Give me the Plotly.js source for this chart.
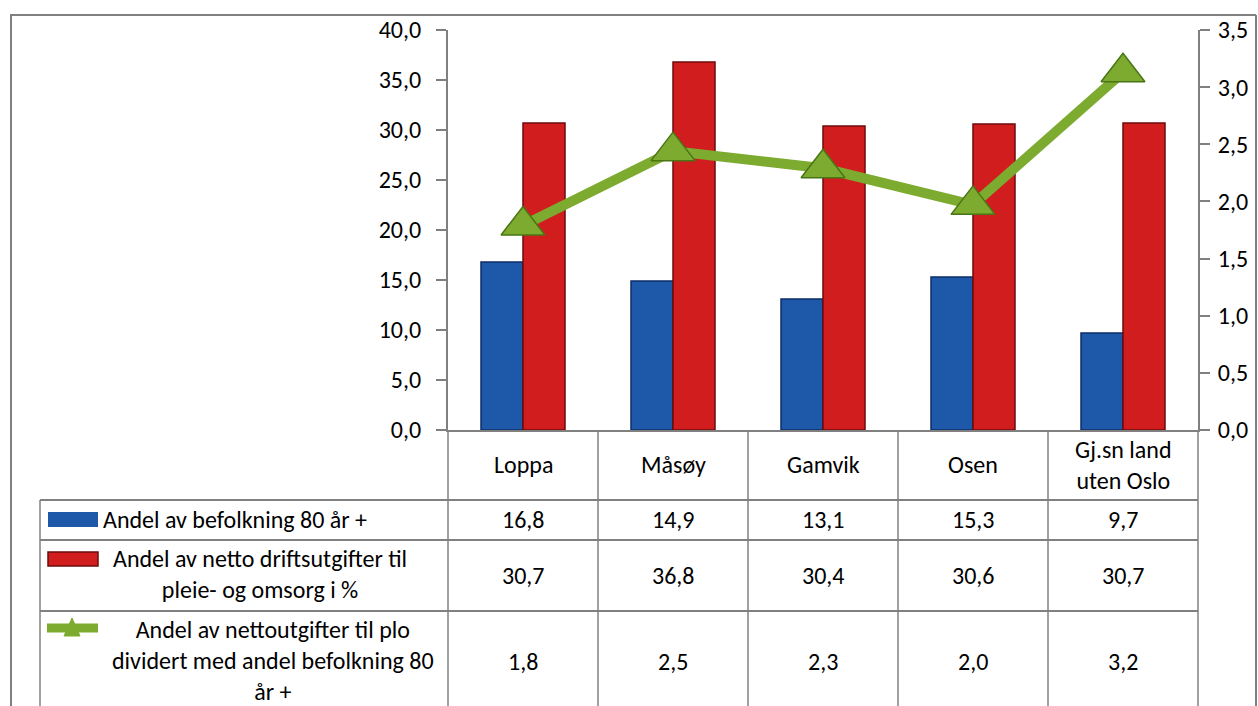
<!DOCTYPE html>
<html>
<head>
<meta charset="utf-8">
<script src="https://cdn.plot.ly/plotly-3.0.1.min.js"></script>
<style>html,body{margin:0;padding:0;background:#fff;}#chart{width:1258px;height:706px;}</style>
</head>
<body>
<div id="chart"></div>
<script>
// ---- data ----
const categories = ['Loppa', 'Måsøy', 'Gamvik', 'Osen', 'Gj.sn land<br>uten Oslo'];
const befolkning80 = [16.8, 14.9, 13.1, 15.3, 9.7];
const driftsutgifter = [30.7, 36.8, 30.4, 30.6, 30.7];
const ploRatio = [1.79, 2.44, 2.29, 1.97, 3.13];          // point positions
const ploRatioLabels = ['1,8', '2,5', '2,3', '2,0', '3,2']; // as printed in the table
const seriesNames = [
  'Andel av befolkning 80 år +',
  'Andel av netto driftsutgifter til<br>pleie- og omsorg i %',
  'Andel av nettoutgifter til plo<br>dividert med andel befolkning 80<br>år +'
];
const leftTicks = [0, 5, 10, 15, 20, 25, 30, 35, 40];
const rightTicks = [0, 0.5, 1, 1.5, 2, 2.5, 3, 3.5];

// ---- geometry helpers (pixel -> paper) ----
const W = 1258, H = 706;
const L = 448, R = 1198, T = 30, B = 430;
const px = x => (x - L) / (R - L);
const py = y => (B - y) / (B - T);

const FONT = 'Carlito, "Open Sans", sans-serif';
const FS = 24;
const GRID = '#808080';
const BLUE = '#1d59a8', BLUE_EDGE = '#0c2c66';
const RED = '#d11d1d', RED_EDGE = '#6e0b0b';
const GREEN = '#7cab2f', GREEN_EDGE = '#4a7514';

const fmt = v => v.toFixed(1).replace('.', ',');

const traces = [
  {type: 'bar', x: categories, y: befolkning80, name: seriesNames[0], yaxis: 'y',
   marker: {color: BLUE, line: {color: BLUE_EDGE, width: 1.5}}},
  {type: 'bar', x: categories, y: driftsutgifter, name: seriesNames[1], yaxis: 'y',
   marker: {color: RED, line: {color: RED_EDGE, width: 1.5}}},
  {type: 'scatter', mode: 'lines+markers', x: categories, y: ploRatio, name: seriesNames[2], yaxis: 'y2',
   line: {color: GREEN, width: 10},
   marker: {symbol: 'triangle-up', size: 38, color: GREEN, line: {color: GREEN_EDGE, width: 1.5}}}
];

const shapes = [];
const line = (x0, y0, x1, y1, w) => shapes.push({type: 'line', xref: 'paper', yref: 'paper',
  x0: px(x0), y0: py(y0), x1: px(x1), y1: py(y1), line: {color: GRID, width: w || 1.5}});

// outer frame
line(10, 15, 1256, 15, 2);
line(11, 15, 11, 706, 2);
line(1256, 15, 1256, 706, 2);
// table
const colEdges = [448, 598, 748, 898, 1048, 1198];
colEdges.forEach(x => line(x, 430, x, 706));
line(40, 500, 40, 706);
[500, 540, 611].forEach(y => line(40, y, 1198, y, 2));

// legend keys
shapes.push({type: 'rect', xref: 'paper', yref: 'paper', x0: px(48), x1: px(98), y0: py(527), y1: py(512),
  fillcolor: BLUE, line: {width: 0}});
shapes.push({type: 'rect', xref: 'paper', yref: 'paper', x0: px(48), x1: px(98), y0: py(566), y1: py(552),
  fillcolor: RED, line: {color: RED_EDGE, width: 1.5}});
shapes.push({type: 'line', xref: 'paper', yref: 'paper', x0: px(47), x1: px(98), y0: py(628), y1: py(628),
  line: {color: GREEN, width: 9}});
shapes.push({type: 'path', xref: 'paper', yref: 'paper',
  path: `M ${px(64)} ${py(636)} L ${px(72)} ${py(618)} L ${px(80)} ${py(636)} Z`,
  fillcolor: GREEN, line: {color: GREEN, width: 1}});

const annotations = [];
const txt = (text, x, y, xanchor) => annotations.push({
  text, xref: 'paper', yref: 'paper', x: px(x), y: py(y), xanchor: xanchor || 'center', yanchor: 'middle',
  showarrow: false, font: {family: FONT, size: FS, color: '#000'}, align: 'center'});

// header row (categories)
categories.forEach(c => {
  annotations.push({text: c, xref: 'x', yref: 'paper', x: c, y: py(465), yanchor: 'middle',
    showarrow: false, font: {family: FONT, size: FS, color: '#000'}, align: 'center'});
});
// legend labels
txt(seriesNames[0], 101, 519, 'left');
txt(seriesNames[1], 260, 574, 'center');
txt(seriesNames[2], 273, 660, 'center');
// values
const rowsY = [519, 575, 661];
[befolkning80.map(fmt), driftsutgifter.map(fmt), ploRatioLabels].forEach((arr, r) => {
  arr.forEach((v, i) => {
    annotations.push({text: v, xref: 'x', yref: 'paper', x: categories[i], y: py(rowsY[r]),
      yanchor: 'middle', showarrow: false, font: {family: FONT, size: FS, color: '#000'}});
  });
});

const layout = {
  width: W, height: H,
  margin: {l: L, r: W - R, t: T, b: H - B, pad: 0},
  paper_bgcolor: '#fff', plot_bgcolor: '#fff',
  separators: ', ',
  showlegend: false,
  barmode: 'group', bargap: 0.44, bargroupgap: 0,
  font: {family: FONT, size: FS, color: '#000'},
  xaxis: {type: 'category', showticklabels: false, ticks: '', showline: true, linecolor: GRID, linewidth: 2,
    showgrid: false, zeroline: false, fixedrange: true},
  yaxis: {range: [0, 40], tickvals: leftTicks, ticktext: leftTicks.map(fmt), ticks: 'outside', ticklen: 10,
    tickcolor: GRID, tickwidth: 2, showline: true, linecolor: GRID, linewidth: 2, showgrid: false, zeroline: false,
    ticklabelstandoff: 10, tickfont: {family: FONT, size: FS, color: '#000'}},
  yaxis2: {range: [0, 3.5], overlaying: 'y', side: 'right', tickvals: rightTicks, ticktext: rightTicks.map(fmt),
    ticks: 'outside', ticklen: 10, tickcolor: GRID, tickwidth: 2, showline: true, linecolor: GRID, linewidth: 2,
    showgrid: false, zeroline: false, ticklabelstandoff: 3, tickfont: {family: FONT, size: FS, color: '#000'}},
  yaxis3: {range: [0, 40], overlaying: 'y', side: 'left', tickvals: leftTicks, showticklabels: false,
    ticks: 'inside', ticklen: 10, tickcolor: GRID, tickwidth: 2, showline: false, showgrid: false, zeroline: false},
  yaxis4: {range: [0, 3.5], overlaying: 'y', side: 'right', tickvals: rightTicks, showticklabels: false,
    ticks: 'inside', ticklen: 10, tickcolor: GRID, tickwidth: 2, showline: false, showgrid: false, zeroline: false},
  shapes, annotations
};

Plotly.newPlot('chart', traces, layout, {displayModeBar: false, staticPlot: true});
</script>
</body>
</html>
